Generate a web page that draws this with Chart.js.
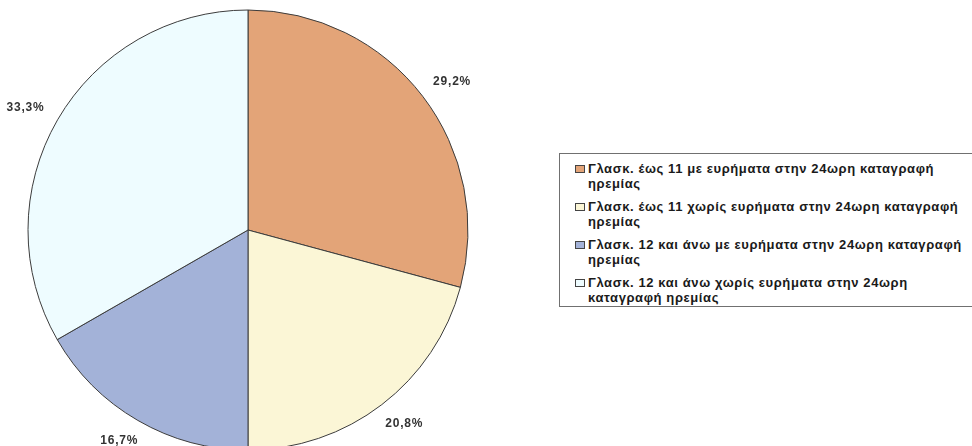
<!DOCTYPE html>
<html>
<head>
<meta charset="utf-8">
<script src="https://cdn.jsdelivr.net/npm/chart.js@4/dist/chart.umd.min.js"></script>
<style>
  body { margin: 0; background: #fff; }
  #wrap { position: relative; width: 972px; height: 446px; overflow: hidden; }
  #pieChart { position: absolute; left: 0; top: 0; }
  #legend {
    position: absolute; left: 559px; top: 153px; width: 440px;
    border: 1px solid #707070; background: #fff;
    padding: 7px 0 1px 0;
    font: bold 13px "Liberation Sans", Arial, sans-serif;
    letter-spacing: 0.6px; color: #1a1a1a;
  }
  .item { position: relative; padding-left: 28px; line-height: 15px; margin-bottom: 8px; white-space: nowrap; }
  .item:last-child { margin-bottom: 0; }
  .box { position: absolute; left: 15px; top: 4px; width: 8px; height: 6px; border: 1px solid #444; }
</style>
</head>
<body>
<div id="wrap">
  <canvas id="pieChart" width="972" height="446"></canvas>
  <div id="legend"></div>
</div>
<script>
const labels = [
  ['Γλασκ. έως 11 με ευρήματα στην 24ωρη καταγραφή', 'ηρεμίας'],
  ['Γλασκ. έως 11 χωρίς ευρήματα στην 24ωρη καταγραφή', 'ηρεμίας'],
  ['Γλασκ. 12 και άνω με ευρήματα στην 24ωρη καταγραφή', 'ηρεμίας'],
  ['Γλασκ. 12 και άνω χωρίς ευρήματα στην 24ωρη', 'καταγραφή ηρεμίας']
];
const percents = [29.2, 20.8, 16.7, 33.3];
const colors = ['#e3a478', '#fbf6d6', '#a3b2d8', '#eefcff'];

function fmt(v) {
  return v.toFixed(1).replace('.', ',') + '%';
}

// percentage text just outside each slice
const outsideLabels = {
  id: 'outsideLabels',
  afterDatasetsDraw(chart) {
    const ctx = chart.ctx;
    const meta = chart.getDatasetMeta(0);
    ctx.save();
    ctx.font = 'bold 12px "Liberation Sans", Arial, sans-serif';
    ctx.letterSpacing = '0.8px';
    ctx.fillStyle = '#333';
    ctx.textAlign = 'center';
    ctx.textBaseline = 'middle';
    meta.data.forEach((arc, i) => {
      const mid = (arc.startAngle + arc.endAngle) / 2;
      const dx = Math.cos(mid), dy = Math.sin(mid);
      const text = fmt(chart.data.datasets[0].data[i]);
      const w = ctx.measureText(text).width;
      const r = arc.outerRadius + 18;
      ctx.fillText(text, arc.x + dx * r + dx * w / 2, arc.y + dy * r + dy * 6);
    });
    ctx.restore();
  }
};

const chart = new Chart(document.getElementById('pieChart'), {
  type: 'pie',
  data: {
    labels: labels,
    datasets: [{
      data: percents,
      backgroundColor: colors,
      borderColor: '#3c3c3c',
      borderWidth: 1,
      radius: 220
    }]
  },
  options: {
    responsive: false,
    animation: false,
    layout: { padding: { left: 0, right: 476, top: 14, bottom: 0 } },
    plugins: {
      legend: { display: false },
      tooltip: { enabled: false }
    }
  },
  plugins: [outsideLabels]
});

// legend built from the chart's own labels and colours
const legendEl = document.getElementById('legend');
chart.data.labels.forEach((lines, i) => {
  const item = document.createElement('div');
  item.className = 'item';
  const box = document.createElement('span');
  box.className = 'box';
  box.style.background = chart.data.datasets[0].backgroundColor[i];
  item.appendChild(box);
  lines.forEach((line, j) => {
    if (j) item.appendChild(document.createElement('br'));
    item.appendChild(document.createTextNode(line));
  });
  legendEl.appendChild(item);
});
</script>
</body>
</html>
